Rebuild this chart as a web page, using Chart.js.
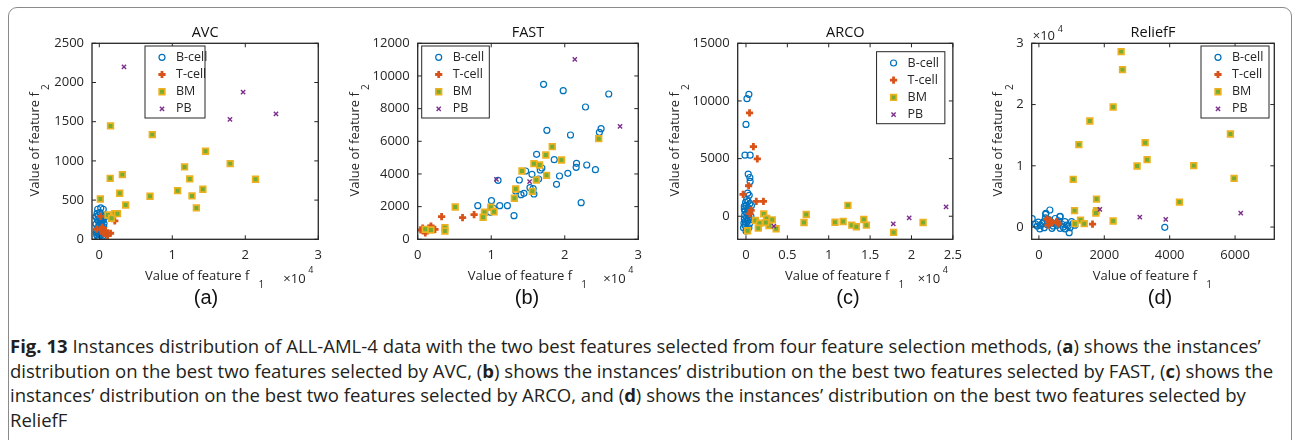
<!DOCTYPE html>
<html>
<head>
<meta charset="utf-8">
<script src="https://cdn.jsdelivr.net/npm/chart.js@4/dist/chart.umd.min.js"></script>
<style>
  body { margin: 0; width: 1292px; height: 440px; overflow: hidden; background: #fff; position: relative; }
  #frame { position: absolute; left: 8px; top: 7px; width: 1282px; height: 520px; border: 1px solid #8a8a8a; border-radius: 9px; }
  canvas { position: absolute; top: 0; }
  .sub { position: absolute; top: 285px; width: 60px; text-align: center; font: 20px "Liberation Sans", Arial, sans-serif; line-height: 24px; color: #111; }
  #caption { position: absolute; left: 10px; top: 334px; font: 18.55px "Open Sans", sans-serif; line-height: 24.5px; color: #231f20; white-space: nowrap; }
</style>
</head>
<body>
<div id="frame"></div>
<canvas id="c0" width="318" height="300" style="left:12px"></canvas>
<canvas id="c1" width="318" height="300" style="left:332px"></canvas>
<canvas id="c2" width="318" height="300" style="left:652px"></canvas>
<canvas id="c3" width="318" height="300" style="left:972px"></canvas>
<div class="sub" style="left:176px">(a)</div>
<div class="sub" style="left:497px">(b)</div>
<div class="sub" style="left:818px">(c)</div>
<div class="sub" style="left:1130px">(d)</div>
<div id="caption"><b>Fig. 13</b> Instances distribution of ALL-AML-4 data with the two best features selected from four feature selection methods, (<b>a</b>) shows the instances’<br>distribution on the best two features selected by AVC, (<b>b</b>) shows the instances’ distribution on the best two features selected by FAST, (<b>c</b>) shows the<br>instances’ distribution on the best two features selected by ARCO, and (<b>d</b>) shows the instances’ distribution on the best two features selected by<br>ReliefF</div>
<script>
// --- class names and panel titles ---
const classNames = ['B-cell', 'T-cell', 'BM', 'PB'];
const panelTitles = ['AVC', 'FAST', 'ARCO', 'ReliefF'];

// --- (a) AVC : [f1, f2] ---
const avcBcell = [[-220,383],[545,383],[95,340],[-446,289],[320,297],[770,289],[-266,246],[95,225],[545,246],[-446,195],
  [-41,170],[320,180],[-356,119],[95,119],[545,119],[-131,77],[230,55],[0,26],[-356,55],[545,77],
  [200,400],[-300,330],[400,260],[-150,300],[650,200],[100,270],[-250,150],[300,140],[-50,100],[450,40],
  [150,60],[-400,90],[600,160],[250,210],[-100,230],[50,190],[350,90],[-200,30]];
const avcTcell = [[190,293],[2120,234],[-350,128],[400,153],[860,110],[1540,77],[1130,46],[190,128],[590,77]];
const avcBM = [[1540,1446],[7260,1335],[14550,1123],[11680,923],[17930,965],[12390,770],[21400,766],[1490,778],[3160,825],[140,514],
  [2800,587],[10730,620],[14190,638],[6950,549],[12700,553],[3610,438],[13300,400],[1180,310],[2120,327],[2490,327],[1680,268]];
const avcPB = [[3380,2200],[19700,1876],[17900,1531],[24200,1599]];
const avcXTicks = [0, 10000, 20000, 30000];
const avcYTicks = [0, 500, 1000, 1500, 2000, 2500];

// --- (b) FAST ---
const fastBcell = [[17120,9490],[19790,9100],[25980,8895],[22820,8100],[17570,6673],[20780,6385],[24940,6772],[24710,6550],[16170,5204],[18570,4873],
  [21600,4653],[21550,4408],[22990,4549],[24170,4261],[20420,4040],[19290,3875],[18880,3367],[16890,4365],[16670,4243],[14680,4181],
  [15540,3979],[13820,3630],[16440,3692],[13320,2957],[14050,2731],[14450,2816],[15810,2773],[15270,3159],[10930,3612],[8170,2057],
  [10030,2363],[11160,2057],[12200,2057],[9890,1653],[13100,1445],[22230,2241],[10300,1900],[15700,3100]];
const fastTcell = [[3250,1384],[6100,1322],[7670,1506],[1800,814],[410,569],[1030,386],[2350,612],[1530,673],[680,692]];
const fastBM = [[24620,6160],[18300,5670],[17430,5160],[15810,4630],[16580,4550],[19560,4855],[17530,3918],[14180,4181],[16130,3630],[13330,3080],
  [15590,2938],[13150,2510],[5100,1977],[9940,1959],[9080,1653],[10380,1690],[8900,1347],[3700,710],[3700,508],[1030,612],[1800,569]];
const fastPB = [[21370,11020],[27520,6918],[10710,3673],[15220,3527]];
const fastXTicks = [0, 10000, 20000, 30000];
const fastYTicks = [0, 2000, 4000, 6000, 8000, 10000, 12000];

// --- (c) ARCO ---
const arcoBcell = [[350,10577],[120,10200],[0,7965],[-120,5293],[500,5293],[270,3655],[470,3360],[500,3017],[390,1810],[80,1440],
  [-200,862],[270,724],[660,922],[-120,430],[350,147],[-200,-224],[180,-430],[-120,-800],[350,-1000],[0,-1290],
  [470,1095],[80,-140],[-200,638],[600,0],[200,2000],[-50,1200],[400,400],[-250,-600],[150,-1100],[550,-300],
  [-150,100],[250,1300],[100,300],[-300,-1000],[450,-600],[0,950],[300,-200],[-100,-450]];
const arcoTcell = [[430,8965],[900,6034],[1370,4974],[320,2646],[-350,1896],[1250,1293],[2110,1293],[620,517],[470,233]];
const arcoBM = [[12320,948],[7280,147],[21400,-543],[14240,-284],[11740,-457],[10760,-517],[14550,-776],[12790,-776],[13340,-914],[7010,-543],
  [17840,-1405],[2150,207],[2500,-198],[3170,-310],[1140,-370],[1640,-603],[2780,-800],[1490,-1034],[3640,-1086],[200,-1258],[2400,-550]];
const arcoPB = [[24180,810],[19720,-140],[17800,-655],[3370,-862]];
const arcoXTicks = [0, 5000, 10000, 15000, 20000, 25000];
const arcoYTicks = [0, 5000, 10000, 15000];

// --- (d) ReliefF ---
const reliefBcell = [[3850,-50],[926,-915],[-205,1370],[336,2780],[205,2070],[642,1700],[-20,815],[-50,160],[100,555],[795,880],
  [1000,880],[847,330],[743,0],[437,160],[162,-100],[214,2240],[651,1750],[300,1200],[450,600],[550,300],
  [600,1000],[900,200],[1050,600],[700,500],[250,400],[50,300],[150,900],[400,-200],[800,-300],[950,-100],
  [350,800],[500,1400],[-100,500],[200,1500],[650,-200],[1100,300],[30,-300],[550,700]];
const reliefTcell = [[1640,490],[250,1300],[300,900],[350,1100],[400,700],[280,300],[550,900],[600,500],[320,1000]];
const reliefBM = [[2515,28640],[2558,25700],[2271,19600],[1559,17310],[1222,13460],[3249,13780],[3310,11000],[3004,9960],[4737,10030],[5858,15190],
  [5970,7950],[1049,7790],[4300,4080],[1763,4570],[1090,2680],[1763,2680],[1742,2290],[2271,980],[1273,1140],[1100,555],[1386,555]];
const reliefPB = [[1864,2890],[3087,1630],[3880,1250],[6174,2290]];
const reliefXTicks = [0, 2000, 4000, 6000];
const reliefYTicks = [0, 10000, 20000, 30000];

// MATLAB-ish colours and markers per class
const markerStyles = [
  { pointStyle: 'circle', pointRadius: 3, pointBorderWidth: 1.2, pointBorderColor: '#0072BD', pointBackgroundColor: 'rgba(0,0,0,0)' },
  { pointStyle: 'cross', pointRadius: 3.6, pointBorderWidth: 2.8, pointBorderColor: '#D95319', pointBackgroundColor: '#D95319' },
  { pointStyle: 'rect', pointRadius: 4, pointBorderWidth: 1.7, pointBorderColor: '#EDB120', pointBackgroundColor: '#77AC30' },
  { pointStyle: 'crossRot', pointRadius: 3, pointBorderWidth: 1.4, pointBorderColor: '#7E2F8E', pointBackgroundColor: '#7E2F8E' }
];

const FONT = '"Open Sans", sans-serif';
const INK = '#262626';

function drawMarker(ctx, st, x, y) {
  const r = st.pointRadius;
  ctx.save();
  ctx.lineWidth = st.pointBorderWidth;
  ctx.strokeStyle = st.pointBorderColor;
  ctx.fillStyle = st.pointBackgroundColor;
  ctx.beginPath();
  if (st.pointStyle === 'circle') {
    ctx.arc(x, y, r, 0, Math.PI * 2);
    ctx.stroke();
  } else if (st.pointStyle === 'rect') {
    const s = r * Math.SQRT1_2;
    ctx.rect(x - s, y - s, 2 * s, 2 * s);
    ctx.fill();
    ctx.stroke();
  } else if (st.pointStyle === 'cross') {
    ctx.moveTo(x - r, y); ctx.lineTo(x + r, y);
    ctx.moveTo(x, y - r); ctx.lineTo(x, y + r);
    ctx.stroke();
  } else {
    const d = r * Math.SQRT1_2;
    ctx.moveTo(x - d, y - d); ctx.lineTo(x + d, y + d);
    ctx.moveTo(x - d, y + d); ctx.lineTo(x + d, y - d);
    ctx.stroke();
  }
  ctx.restore();
}

// box, inward ticks, titles, labels, legend
const decorPlugin = {
  id: 'decor',
  afterDraw(chart, args, o) {
    const ctx = chart.ctx;
    const ca = chart.chartArea;
    const xs = chart.scales.x, ys = chart.scales.y;
    ctx.save();
    ctx.strokeStyle = INK;
    ctx.lineWidth = 1.3;
    ctx.strokeRect(ca.left, ca.top, ca.right - ca.left, ca.bottom - ca.top);
    ctx.lineWidth = 1;
    ctx.beginPath();
    xs.ticks.forEach(t => {
      const px = xs.getPixelForValue(t.value);
      ctx.moveTo(px, ca.bottom); ctx.lineTo(px, ca.bottom - 4);
      ctx.moveTo(px, ca.top); ctx.lineTo(px, ca.top + 4);
    });
    ys.ticks.forEach(t => {
      const py = ys.getPixelForValue(t.value);
      ctx.moveTo(ca.left, py); ctx.lineTo(ca.left + 4, py);
      ctx.moveTo(ca.right, py); ctx.lineTo(ca.right - 4, py);
    });
    ctx.stroke();

    // title
    ctx.fillStyle = '#111';
    ctx.font = '14.5px ' + FONT;
    ctx.textAlign = 'center';
    ctx.textBaseline = 'middle';
    ctx.fillText(o.title, (ca.left + ca.right) / 2, ca.top - 10);

    // x label with subscript
    ctx.fillStyle = INK;
    ctx.font = '13px ' + FONT;
    const lab = 'Value of feature f';
    const w = ctx.measureText(lab).width;
    const cx = (ca.left + ca.right) / 2 - 8;
    ctx.fillText(lab, cx, ca.bottom + 37);
    ctx.font = '10px ' + FONT;
    ctx.fillText('1', cx + w / 2 + 12, ca.bottom + 46);

    // y label (rotated) with subscript
    ctx.save();
    ctx.translate(ca.left + o.yLabelDx, (ca.top + ca.bottom) / 2 + 3);
    ctx.rotate(-Math.PI / 2);
    ctx.font = '13px ' + FONT;
    ctx.fillText(lab, 0, 0);
    ctx.font = '10px ' + FONT;
    ctx.fillText('2', w / 2 + 5, 11.5);
    ctx.restore();

    // exponent
    ctx.textAlign = 'left';
    if (o.exp === 'x') {
      ctx.font = '13px ' + FONT;
      ctx.fillText('\u00d710', ca.right - 35, ca.bottom + 40);
      ctx.font = '9px ' + FONT;
      ctx.fillText('4', ca.right - 10, ca.bottom + 31);
    } else {
      ctx.font = '13px ' + FONT;
      ctx.fillText('\u00d710', ca.left + 1, ca.top - 7);
      ctx.font = '9px ' + FONT;
      ctx.fillText('4', ca.left + 26, ca.top - 14);
    }

    // legend box inside the axes
    const L = o.legend;
    const bx = L.fromRight ? ca.right - L.dx - L.w : ca.left + L.dx;
    const by = ca.top + L.dy;
    ctx.fillStyle = '#fff';
    ctx.fillRect(bx, by, L.w, 72);
    ctx.strokeStyle = INK;
    ctx.lineWidth = 1;
    ctx.strokeRect(bx, by, L.w, 72);
    ctx.font = '12.5px ' + FONT;
    ctx.textBaseline = 'middle';
    chart.data.datasets.forEach((ds, i) => {
      const yy = by + 11.3 + i * 17.2;
      drawMarker(ctx, markerStyles[i], bx + 17, yy);
      ctx.fillStyle = INK;
      ctx.fillText(ds.label, bx + 31, yy);
    });
    ctx.restore();
  }
};

function makePanel(id, series, xr, yr, xTicks, yTicks, xFmt, yFmt, pad, extra) {
  const datasets = series.map((pts, i) => Object.assign({
    label: classNames[i],
    data: pts,
    order: 4 - i
  }, markerStyles[i]));
  const tickFont = { family: FONT, size: 13 };
  return new Chart(document.getElementById(id), {
    type: 'scatter',
    data: { datasets },
    options: {
      responsive: false,
      animation: false,
      events: [],
      layout: { padding: pad },
      plugins: { legend: { display: false }, tooltip: { enabled: false }, decor: extra },
      scales: {
        x: {
          type: 'linear', min: xr[0], max: xr[1],
          grid: { display: false, drawTicks: false },
          border: { display: false },
          ticks: { padding: 8, color: INK, font: tickFont, autoSkip: false, maxRotation: 0, callback: xFmt },
          afterBuildTicks: s => { s.ticks = xTicks.map(v => ({ value: v })); },
          afterFit: s => { s.height = 25; }
        },
        y: {
          type: 'linear', min: yr[0], max: yr[1],
          grid: { display: false, drawTicks: false },
          border: { display: false },
          ticks: { padding: 8, color: INK, font: tickFont, autoSkip: false, callback: yFmt },
          afterBuildTicks: s => { s.ticks = yTicks.map(v => ({ value: v })); },
          afterFit: s => { s.width = 50; }
        }
      }
    },
    plugins: [decorPlugin]
  });
}

const per1e4 = v => String(v / 10000);
const plain = v => String(v);

makePanel('c0', [avcBcell, avcTcell, avcBM, avcPB], [-1000, 30000], [0, 2500], avcXTicks, avcYTicks, per1e4, plain,
  { left: 30, right: 8.3, top: 43.3, bottom: 35.7 },
  { title: panelTitles[0], exp: 'x', yLabelDx: -57, legend: { fromRight: false, dx: 53, dy: 2.7, w: 60 } });
makePanel('c1', [fastBcell, fastTcell, fastBM, fastPB], [0, 30000], [0, 12000], fastXTicks, fastYTicks, per1e4, plain,
  { left: 35.7, right: 11, top: 43.3, bottom: 35.7 },
  { title: panelTitles[1], exp: 'x', yLabelDx: -62.7, legend: { fromRight: false, dx: 4, dy: 2.7, w: 67.6 } });
makePanel('c2', [arcoBcell, arcoTcell, arcoBM, arcoPB], [-1000, 25000], [-2000, 15000], arcoXTicks, arcoYTicks, per1e4, plain,
  { left: 35.7, right: 11, top: 43.3, bottom: 35.7 },
  { title: panelTitles[2], exp: 'x', yLabelDx: -62.7, legend: { fromRight: true, dx: 8, dy: 8.4, w: 68.3 } });
makePanel('c3', [reliefBcell, reliefTcell, reliefBM, reliefPB], [-220, 7200], [-2000, 30000], reliefXTicks, reliefYTicks, plain, per1e4,
  { left: 9.7, right: 15.7, top: 43.3, bottom: 35.7 },
  { title: panelTitles[3], exp: 'y', yLabelDx: -33.4, legend: { fromRight: true, dx: 5.3, dy: 2.7, w: 68 } });
</script>
</body>
</html>
